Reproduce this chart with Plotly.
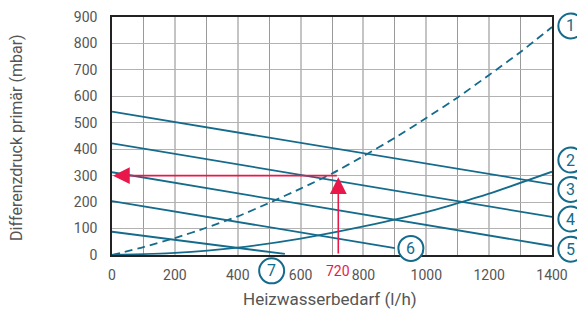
import plotly.graph_objects as go

# Flow (l/h) and pressure (mbar) readings per curve
x1 = [0, 100, 200, 300, 400, 500, 600, 700, 800, 900, 1000, 1100, 1200, 1300, 1400]
y1 = [0, 30, 64, 103, 146, 197, 251, 308, 374, 443, 518, 596, 681, 768, 862]
x2 = [0, 200, 400, 600, 800, 1000, 1100, 1200, 1400]
y2 = [0, 8, 28, 62, 108, 162, 196, 232, 315]
x3 = [0, 1400]
y3 = [542, 267]
x4 = [0, 1400]
y4 = [422, 144]
x5 = [0, 1400]
y5 = [313, 34]
x6 = [0, 900]
y6 = [204, 26]
x7 = [0, 550]
y7 = [88, 4]

curve_names = ["1", "2", "3", "4", "5", "6", "7"]
label_x = [1460, 1460, 1460, 1460, 1460, 951, 508]
label_y = [866, 359, 248, 136, 22, 25, -60]

x_ticks = [0, 200, 400, 600, 800, 1000, 1200, 1400]
y_ticks = [0, 100, 200, 300, 400, 500, 600, 700, 800, 900]
flow_mark = 720
press_mark = 300

X_MAX, Y_MAX = 1400, 900
TEAL = "#146b8b"
RED = "#e8194a"
GRAY = "#555555"
FONT = "Roboto"

fig = go.Figure()
fig.add_trace(go.Scatter(x=x1, y=y1, mode="lines",
                         line=dict(color=TEAL, width=1.8, dash="8px,5px", shape="spline", smoothing=0.6)))
for xs, ys in [(x2, y2), (x3, y3), (x4, y4), (x5, y5), (x6, y6), (x7, y7)]:
    fig.add_trace(go.Scatter(x=xs, y=ys, mode="lines", line=dict(color=TEAL, width=1.8, shape="spline", smoothing=0.6)))

# circled curve labels (paper coordinates so they can sit outside the plot area)
for name, lx, ly in zip(curve_names, label_x, label_y):
    px, py = lx / X_MAX, ly / Y_MAX
    fig.add_shape(type="circle", xref="paper", yref="paper", xsizemode="pixel", ysizemode="pixel",
                  xanchor=px, yanchor=py, x0=-12.5, x1=12.5, y0=-12.5, y1=12.5,
                  line=dict(color=TEAL, width=2), fillcolor="white", layer="above")
    fig.add_annotation(x=px, y=py, xref="paper", yref="paper", xanchor="center", yanchor="middle",
                       text=name, showarrow=False, font=dict(color=TEAL, size=16, family=FONT))

# red reading arrows
fig.add_annotation(x=flow_mark, y=press_mark - 6, ax=flow_mark, ay=0, xref="x", yref="y", axref="x", ayref="y",
                   showarrow=True, arrowhead=2, arrowsize=2.1, arrowwidth=1.6, arrowcolor=RED, text="")
fig.add_annotation(x=3, y=press_mark, ax=flow_mark, ay=press_mark, xref="x", yref="y", axref="x", ayref="y",
                   showarrow=True, arrowhead=2, arrowsize=2.1, arrowwidth=1.6, arrowcolor=RED, text="")
fig.add_annotation(x=flow_mark / X_MAX, y=0, xref="paper", yref="paper", yshift=-16, yanchor="middle",
                   showarrow=False, text=str(flow_mark), font=dict(color=RED, size=14, family=FONT))

# axis titles
fig.add_annotation(x=0.495, y=-0.185, xref="paper", yref="paper", xanchor="center", yanchor="middle",
                   showarrow=False, text="Heizwasserbedarf (l/h)", font=dict(size=17, color=GRAY, family=FONT))
fig.add_annotation(x=-0.216, y=0.496, xref="paper", yref="paper", xanchor="center", yanchor="middle",
                   showarrow=False, textangle=-90,
                   text="Differenzdruck primär (mbar)", font=dict(size=16, color=GRAY, family=FONT))

# page body adds an 8px offset; sizes compensate for it
fig.update_layout(
    width=577, height=306,
    margin=dict(l=104, r=33, t=9, b=59),
    paper_bgcolor="white", plot_bgcolor="white",
    showlegend=False,
    font=dict(family=FONT, color=GRAY, size=14),
)
fig.update_xaxes(
    range=[0, X_MAX], tickvals=x_ticks, ticks="", automargin=False, ticklabelstandoff=6,
    showgrid=True, gridcolor="#c4c4c4", gridwidth=2,
    minor=dict(dtick=100, showgrid=True, gridcolor="#9a9a9a", gridwidth=1),
    showline=True, linecolor="#222222", linewidth=1.5, mirror=True, zeroline=False,
    tickfont=dict(size=14, color=GRAY),
)
fig.update_yaxes(
    range=[0, Y_MAX], tickvals=y_ticks, ticks="", automargin=False, ticklabelstandoff=10,
    showgrid=True, gridcolor="#b2b2b2", gridwidth=1.4,
    showline=True, linecolor="#222222", linewidth=1.5, mirror=True, zeroline=False,
    tickfont=dict(size=14, color=GRAY),
)

fig.write_html("out.html")
